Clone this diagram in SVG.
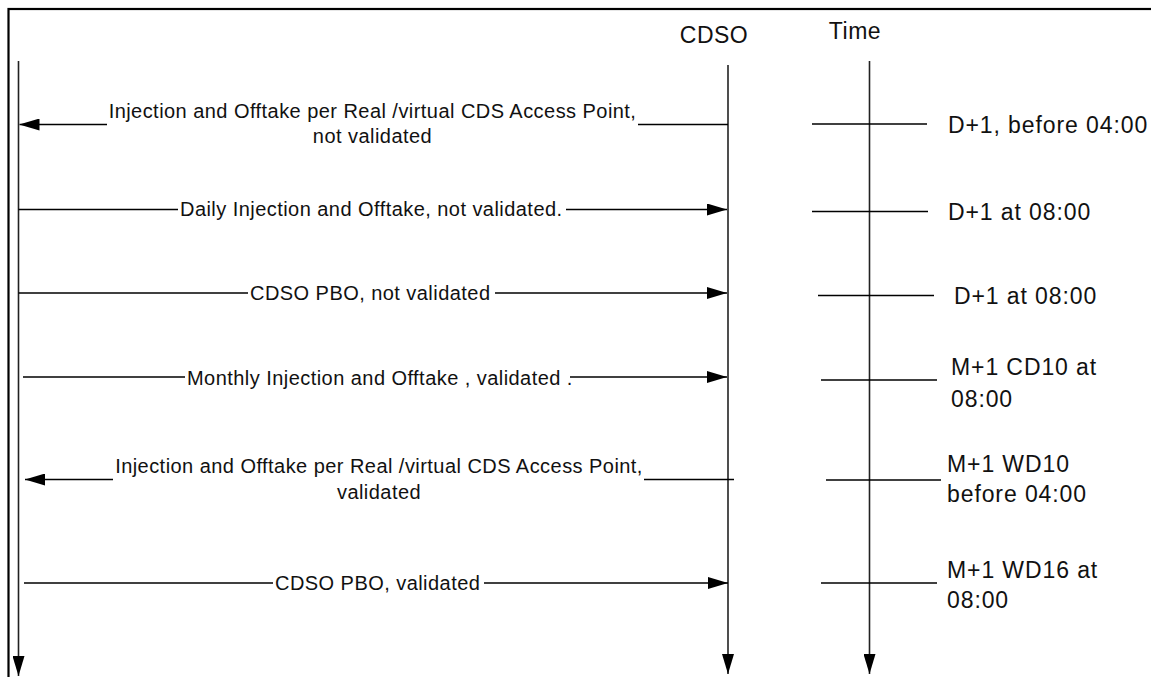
<svg xmlns="http://www.w3.org/2000/svg" width="1151" height="677" viewBox="0 0 1151 677">
<style>
.frame{fill:none;stroke:#000;stroke-width:2.2}
.life{fill:none;stroke:#222;stroke-width:1.6}
.msg{fill:none;stroke:#000;stroke-width:1.3}
.tick{fill:none;stroke:#000;stroke-width:1.3}
.lbl{font-family:"Liberation Sans",Arial,sans-serif;font-size:20px;letter-spacing:0.45px;fill:#111}
.tl{font-family:"Liberation Sans",Arial,sans-serif;font-size:23px;letter-spacing:0.9px;fill:#111}
.hd{font-family:"Liberation Sans",Arial,sans-serif;font-size:23px;letter-spacing:0.5px;fill:#111}
</style>
<defs>
<marker id="ah" markerUnits="userSpaceOnUse" markerWidth="20" markerHeight="12" refX="20" refY="6" orient="auto">
<path d="M0,0 L20,6 L0,12 z" fill="#000"/>
</marker>
</defs>
<rect class="frame" x="8.5" y="9" width="1160" height="680"/>
<g id="hdr-cdso"><text class="hd" x="714" y="43" text-anchor="middle">CDSO</text></g>
<g id="hdr-time"><text class="hd" x="855" y="39" text-anchor="middle">Time</text></g>
<g id="lifelines">
<path id="life-left" class="life" d="M18.5,61 V676" marker-end="url(#ah)"/>
<path id="life-cdso" class="life" d="M728,65 V674" marker-end="url(#ah)"/>
<path id="life-time" class="life" d="M869.5,61 V674" marker-end="url(#ah)"/>
</g>
<g id="connectors">
<path class="msg" d="M107,124.5 H19.5" marker-end="url(#ah)"/>
<path class="msg" d="M638,124.5 H728"/>
<path class="msg" d="M18.5,209.5 H178"/>
<path class="msg" d="M566,209.5 H727" marker-end="url(#ah)"/>
<path class="msg" d="M18.5,293 H248"/>
<path class="msg" d="M495,293 H727" marker-end="url(#ah)"/>
<path class="msg" d="M23,377 H185"/>
<path class="msg" d="M570,377 H727" marker-end="url(#ah)"/>
<path class="msg" d="M113,479.5 H25" marker-end="url(#ah)"/>
<path class="msg" d="M644,479.5 H734"/>
<path class="msg" d="M24,583 H273"/>
<path class="msg" d="M484,583 H728" marker-end="url(#ah)"/>
</g>
<g id="msg1"><text class="lbl" x="372.5" y="118" text-anchor="middle">Injection and Offtake per Real /virtual CDS Access Point,</text><text class="lbl" x="372.5" y="143" text-anchor="middle">not validated</text></g>
<g id="msg2"><text class="lbl" x="180" y="216">Daily Injection and Offtake, not validated.</text></g>
<g id="msg3"><text class="lbl" x="250" y="299.5">CDSO PBO, not validated</text></g>
<g id="msg4"><text class="lbl" x="187" y="385">Monthly Injection and Offtake , validated .</text></g>
<g id="msg5"><text class="lbl" x="379" y="473" text-anchor="middle">Injection and Offtake per Real /virtual CDS Access Point,</text><text class="lbl" x="379" y="499" text-anchor="middle">validated</text></g>
<g id="msg6"><text class="lbl" x="275" y="589.5">CDSO PBO, validated</text></g>
<g id="ticks">
<path class="tick" d="M812,124 H927"/>
<path class="tick" d="M812,211.5 H928"/>
<path class="tick" d="M818,295.5 H934"/>
<path class="tick" d="M821,380 H937"/>
<path class="tick" d="M826,480 H941"/>
<path class="tick" d="M821,583 H937"/>
</g>
<g id="t1"><text class="tl" x="948" y="133">D+1, before 04:00</text></g>
<g id="t2"><text class="tl" x="948" y="220">D+1 at 08:00</text></g>
<g id="t3"><text class="tl" x="954" y="304">D+1 at 08:00</text></g>
<g id="t4"><text class="tl" x="951" y="375">M+1 CD10 at</text><text class="tl" x="951" y="407">08:00</text></g>
<g id="t5"><text class="tl" x="947" y="472">M+1 WD10</text><text class="tl" x="947" y="502">before 04:00</text></g>
<g id="t6"><text class="tl" x="947" y="578">M+1 WD16 at</text><text class="tl" x="947" y="608">08:00</text></g>
</svg>
